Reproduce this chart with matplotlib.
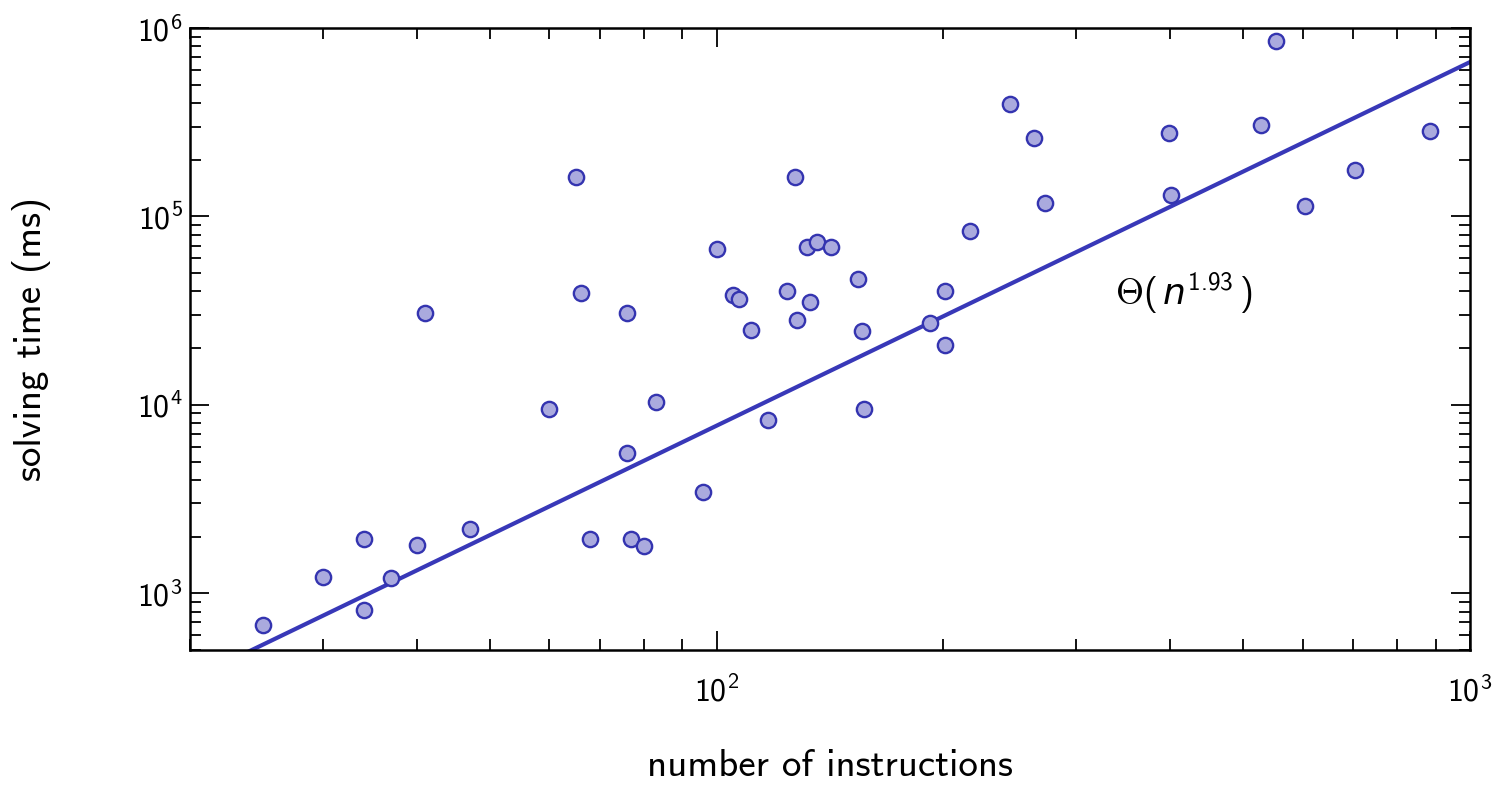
import numpy as np
import matplotlib
matplotlib.use("Agg")
import matplotlib.pyplot as plt
from matplotlib.ticker import LogLocator, NullFormatter

plt.rcParams['font.family'] = ['cmss10', 'DejaVu Sans']
plt.rcParams['mathtext.fontset'] = 'custom'
plt.rcParams['mathtext.rm'] = 'cmss10'
plt.rcParams['mathtext.it'] = 'DejaVu Sans:italic'
plt.rcParams['axes.unicode_minus'] = False
plt.rcParams['axes.formatter.use_mathtext'] = True

# number of instructions per program
instructions = [25, 30, 34, 34, 37, 40, 41, 47, 60, 65, 66, 68, 76, 76, 77, 80,
                83, 96, 100, 105, 107, 111, 117, 124, 127, 128, 132, 133, 136, 142,
                154, 156, 157, 192, 201, 201, 217, 245, 264, 273, 398, 401, 528,
                552, 604, 703, 885]
# solving time (ms)
solve_ms = [676, 1220, 1930, 813, 1210, 1800, 30800, 2180, 9550, 162000, 39400,
            1930, 30800, 5520, 1930, 1790, 10300, 3430, 67300, 38500, 36600,
            25000, 8260, 40400, 162000, 28300, 69000, 35200, 73300, 69000,
            46600, 24800, 9550, 27300, 40400, 20900, 83900, 395000, 261000,
            118000, 277000, 130000, 306000, 851000, 114000, 176000, 284000]

# fitted power law
fit_exp = 1.93
fit_coef = 1.07

face_col = '#aaaade'
edge_col = '#3434b0'
line_col = '#3838b8'

fig = plt.figure(figsize=(14.97, 7.89), dpi=100)
ax = fig.add_axes([0.1269, 0.1762, 0.8551, 0.7883])

xs = np.logspace(np.log10(20), 3, 200)
ax.plot(xs, fit_coef * xs ** fit_exp, color=line_col, lw=3.0, zorder=2)
ax.plot(instructions, solve_ms, 'o', ms=11, mfc=face_col, mec=edge_col,
        mew=1.7, zorder=3, clip_on=False)

ax.set_xscale('log')
ax.set_yscale('log')
ax.set_xlim(20, 1000)
ax.set_ylim(500, 1e6)

ax.xaxis.set_major_locator(LogLocator(base=10, numticks=10))
ax.xaxis.set_minor_locator(LogLocator(base=10, subs=np.arange(2, 10), numticks=20))
ax.yaxis.set_major_locator(LogLocator(base=10, numticks=10))
ax.yaxis.set_minor_locator(LogLocator(base=10, subs=np.arange(2, 10), numticks=20))
ax.xaxis.set_minor_formatter(NullFormatter())
ax.yaxis.set_minor_formatter(NullFormatter())

ax.tick_params(which='both', direction='in', top=True, right=True, width=1.3)
ax.tick_params(which='major', length=14, labelsize=23)
ax.tick_params(axis='x', which='major', pad=18)
ax.tick_params(axis='y', which='major', pad=5)
ax.tick_params(which='minor', length=8)
for sp in ax.spines.values():
    sp.set_linewidth(1.8)

ax.set_xlabel('number of instructions', fontsize=28, labelpad=30)
ax.set_ylabel('solving time (ms)', fontsize=28, labelpad=62)

ax.text(338, 39000, r'$\Theta(\,n^{1.93}\,)$', fontsize=26, ha='left', va='center')

fig.savefig('out.png', dpi=100)
